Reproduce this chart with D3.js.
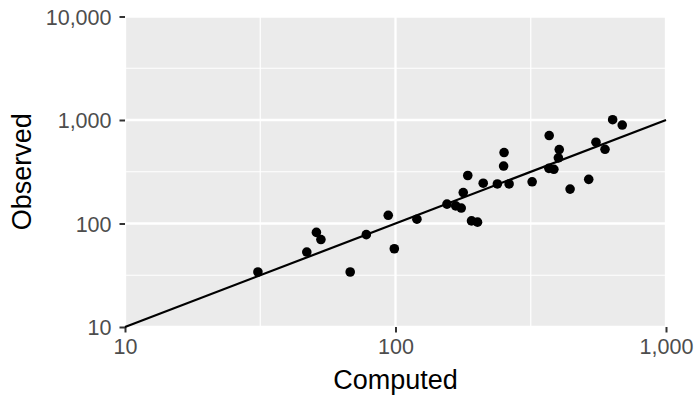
<!DOCTYPE html>
<html>
<head>
<meta charset="utf-8">
<script src="https://cdn.jsdelivr.net/npm/d3@7"></script>
<style>
  html, body { margin: 0; padding: 0; background: #ffffff; }
  svg { display: block; font-family: "Liberation Sans", Arial, Helvetica, sans-serif; }
</style>
</head>
<body>
<svg id="chart" width="697" height="396"></svg>
<script>
// Computed vs. observed values (log-log)
const computed = [31, 47, 51, 53, 68, 78, 94, 99, 120,
  155, 167, 175, 178, 185, 191, 201, 211, 238, 252,
  251, 263, 320, 370, 403, 400, 369, 385, 442, 518,
  551, 595, 635, 689];
const observed = [34, 53, 82, 70, 34, 78, 120, 57, 110,
  154, 148, 141, 199, 291, 106, 103, 245, 241, 485,
  359, 241, 253, 708, 518, 431, 341, 334, 215, 267,
  610, 521, 1007, 894];

const xTicks = [10, 100, 1000];
const yTicks = [10, 100, 1000, 10000];
const xMinor = [Math.pow(10, 1.5), Math.pow(10, 2.5)];
const yMinor = [Math.pow(10, 1.5), Math.pow(10, 2.5), Math.pow(10, 3.5)];
const refLine = [10, 1000];   // identity line y = x

const xTitle = "Computed";
const yTitle = "Observed";

const svg = d3.select("#chart");
const panel = { left: 125, right: 666, top: 16.5, bottom: 327 };

const x = d3.scaleLog().domain([10, 1000]).range([panel.left, panel.right]);
const y = d3.scaleLog().domain([10, 10000]).range([panel.bottom, panel.top]);
const fmt = d3.format(",");

// panel background
svg.append("rect")
  .attr("x", panel.left).attr("y", panel.top)
  .attr("width", panel.right - panel.left)
  .attr("height", panel.bottom - panel.top)
  .attr("fill", "#EBEBEB");

// minor grid
const grid = svg.append("g");
grid.selectAll(".xminor").data(xMinor).join("line")
  .attr("class", "xminor")
  .attr("x1", d => x(d)).attr("x2", d => x(d))
  .attr("y1", panel.top).attr("y2", panel.bottom)
  .attr("stroke", "#ffffff").attr("stroke-width", 1.2);
grid.selectAll(".yminor").data(yMinor).join("line")
  .attr("class", "yminor")
  .attr("y1", d => y(d)).attr("y2", d => y(d))
  .attr("x1", panel.left).attr("x2", panel.right)
  .attr("stroke", "#ffffff").attr("stroke-width", 1.2);

// major grid
grid.selectAll(".xmajor").data(xTicks).join("line")
  .attr("class", "xmajor")
  .attr("x1", d => x(d)).attr("x2", d => x(d))
  .attr("y1", panel.top).attr("y2", panel.bottom)
  .attr("stroke", "#ffffff").attr("stroke-width", 2.3);
grid.selectAll(".ymajor").data(yTicks).join("line")
  .attr("class", "ymajor")
  .attr("y1", d => y(d)).attr("y2", d => y(d))
  .attr("x1", panel.left).attr("x2", panel.right)
  .attr("stroke", "#ffffff").attr("stroke-width", 2.3);

// axes
const xAxis = d3.axisBottom(x).tickValues(xTicks).tickFormat(fmt)
  .tickSize(5.5).tickPadding(7);
const yAxis = d3.axisLeft(y).tickValues(yTicks).tickFormat(fmt)
  .tickSize(5.5).tickPadding(8);

const gx = svg.append("g").attr("transform", `translate(0,${panel.bottom})`).call(xAxis);
const gy = svg.append("g").attr("transform", `translate(${panel.left},0)`).call(yAxis);
[gx, gy].forEach(g => {
  g.select(".domain").remove();
  g.selectAll(".tick line").attr("stroke", "#333333").attr("stroke-width", 2);
  g.selectAll(".tick text")
    .attr("fill", "#4D4D4D")
    .style("font-size", "21.5px")
    .style("font-family", "'Liberation Sans', Arial, Helvetica, sans-serif");
});
gy.selectAll(".tick text").attr("dy", "0.36em");
gx.selectAll(".tick text").attr("dy", "0.68em");

// identity line
svg.append("line")
  .attr("x1", x(refLine[0])).attr("y1", y(refLine[0]))
  .attr("x2", x(refLine[1])).attr("y2", y(refLine[1]))
  .attr("stroke", "#000000").attr("stroke-width", 2.2);

// points
svg.append("g").selectAll("circle")
  .data(computed.map((c, i) => ({ c, o: observed[i] })))
  .join("circle")
  .attr("cx", d => x(d.c))
  .attr("cy", d => y(d.o))
  .attr("r", 4.8)
  .attr("fill", "#000000");

// axis titles
svg.append("text")
  .attr("x", (panel.left + panel.right) / 2)
  .attr("y", 388.5)
  .attr("text-anchor", "middle")
  .style("font-size", "27px")
  .attr("fill", "#000000")
  .text(xTitle);

svg.append("text")
  .attr("transform", `translate(31,${(panel.top + panel.bottom) / 2}) rotate(-90)`)
  .attr("text-anchor", "middle")
  .style("font-size", "27px")
  .attr("fill", "#000000")
  .text(yTitle);
</script>
</body>
</html>
